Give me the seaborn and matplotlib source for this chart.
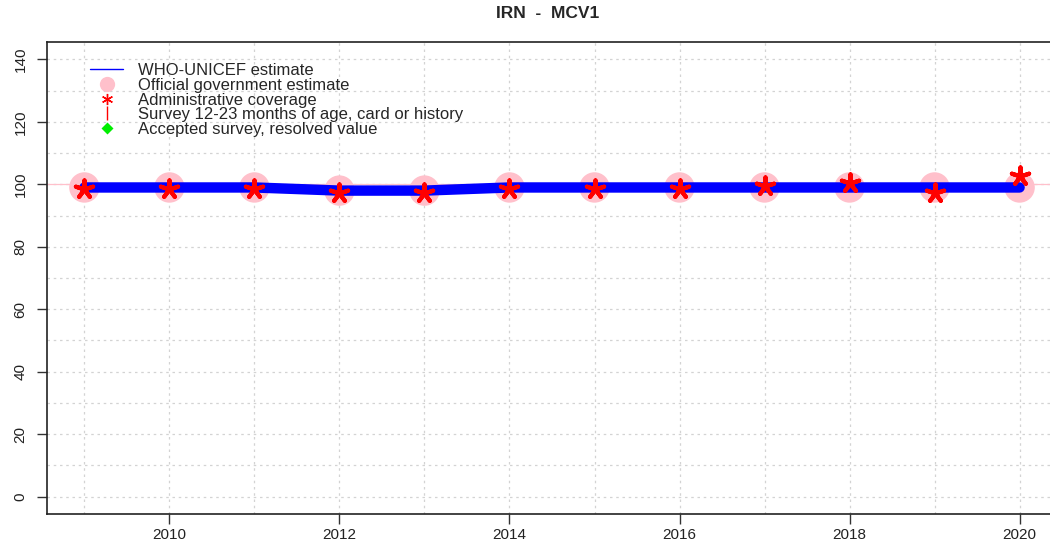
import matplotlib
matplotlib.use("Agg")
import matplotlib.pyplot as plt
import seaborn as sns
import pandas as pd
from matplotlib.lines import Line2D

years = [2009, 2010, 2011, 2012, 2013, 2014, 2015, 2016, 2017, 2018, 2019, 2020]
wuenic = [99, 99, 99, 98, 98, 99, 99, 99, 99, 99, 99, 99]
official = [99, 99, 99, 98, 98, 99, 99, 99, 99, 99, 99, 99]
admin = [98.4, 98.4, 98.4, 97.3, 97.3, 98.4, 98.4, 98.4, 99.4, 100.5, 97.3, 102.6]
title = "IRN  -  MCV1"
legend_labels = ["WHO-UNICEF estimate", "Official government estimate",
                 "Administrative coverage", "Survey 12-23 months of age, card or history",
                 "Accepted survey, resolved value"]
xticks = [2010, 2012, 2014, 2016, 2018, 2020]
yticks = [0, 20, 40, 60, 80, 100, 120, 140]

df = pd.DataFrame({"year": years, "wuenic": wuenic, "official": official, "admin": admin})

sns.set_style("white")
plt.rcParams["font.family"] = ["Liberation Sans", "DejaVu Sans"]

fig = plt.figure(figsize=(10.5, 5.48), dpi=100)
ax = fig.add_axes([47 / 1050, 34 / 548, (1057 - 47) / 1050, (514 - 42) / 548])

# grid
for yv in range(0, 150, 10):
    ax.axhline(yv, color="#d3d3d3", lw=0.9, ls=(0, (2, 3)), zorder=0)
for xv in years:
    ax.axvline(xv, color="#d3d3d3", lw=0.9, ls=(0, (2, 3)), zorder=0)
ax.axhline(100, color="pink", lw=0.9, zorder=1)

sns.scatterplot(data=df, x="year", y="official", ax=ax, color="pink", s=480,
                edgecolor="none", zorder=2, legend=False)
sns.lineplot(data=df, x="year", y="wuenic", ax=ax, color="blue", lw=7.5,
             solid_capstyle="round", zorder=3, legend=False)
sns.scatterplot(data=df, x="year", y="admin", ax=ax, color="red", marker=(5, 2, 0),
                s=170, linewidth=3.0, edgecolor="red", zorder=4, legend=False)

ax.set_xlim(2008.56, 2020.44)
ax.set_ylim(-5.6, 145.6)
ax.set_xticks(xticks)
ax.set_xticklabels([str(x) for x in xticks], fontsize=11, color="#222222")
ax.set_yticks(yticks)
ax.set_yticklabels([str(y) for y in yticks], fontsize=11, rotation=90, va="center",
                   color="#222222")
ax.tick_params(axis="both", which="major", bottom=True, left=True, direction="out",
               length=7, width=1, color="#333333")
ax.tick_params(axis="x", pad=3)
ax.tick_params(axis="y", pad=7)
ax.set_xlabel("")
ax.set_ylabel("")
for s in ax.spines.values():
    s.set_color("#222222")
    s.set_linewidth(1.2)

handles = [
    Line2D([], [], color="blue", lw=1),
    Line2D([], [], color="pink", marker="o", ls="none", markersize=11, markeredgecolor="none"),
    Line2D([], [], color="red", marker=(6, 2, 0), ls="none", markersize=8, markeredgewidth=1),
    Line2D([], [], color="red", marker="|", ls="none", markersize=10, markeredgewidth=1),
    Line2D([], [], color="#00ee00", marker="D", ls="none", markersize=6.5, markeredgecolor="none"),
]
leg = ax.legend(handles, legend_labels, loc="upper left",
                bbox_to_anchor=(43 / 1010, 0.955), frameon=False, fontsize=12,
                handlelength=2.0, labelspacing=-0.02, handletextpad=0.9,
                borderaxespad=0, borderpad=0)

fig.text(548 / 1050, 1 - 14 / 548, title, ha="center", va="center",
         fontsize=12.5, fontweight="bold")

fig.savefig("out.png", dpi=100)
